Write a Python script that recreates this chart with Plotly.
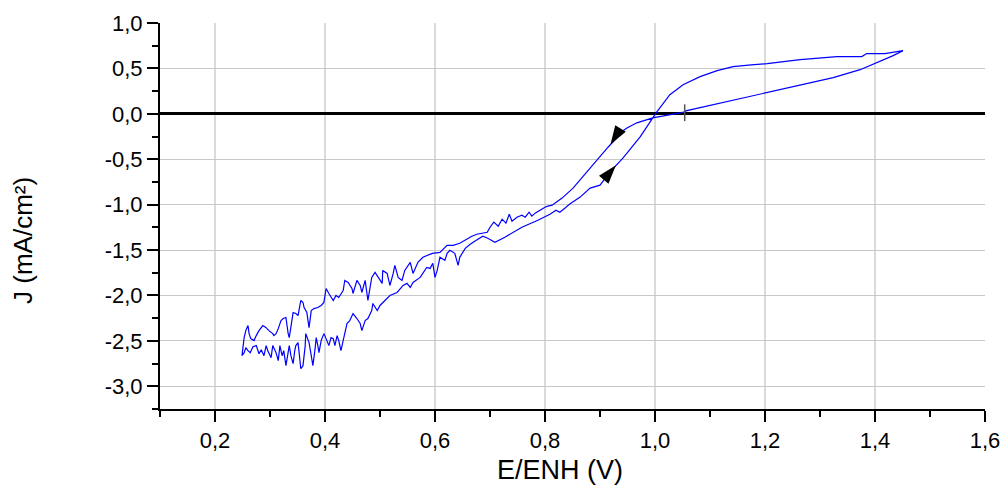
import plotly.graph_objects as go

# ---- data (E in V vs ENH, J in mA/cm2) ----
# cathodic sweep from start point, upper (noisy) branch going left
branch_b_E = [1.055, 1.027, 0.996, 0.967, 0.949, 0.936, 0.927, 0.915, 0.895, 0.876, 0.851, 0.831, 0.813,
              0.805, 0.800, 0.791, 0.782, 0.776, 0.771, 0.764, 0.758, 0.749, 0.740, 0.735, 0.729, 0.722,
              0.715, 0.707, 0.700, 0.695, 0.685, 0.676, 0.667, 0.655, 0.645, 0.633, 0.622, 0.609, 0.595,
              0.578, 0.569, 0.560, 0.555, 0.545, 0.540, 0.533, 0.527, 0.524, 0.518, 0.513, 0.505, 0.504,
              0.496, 0.491, 0.485, 0.478, 0.473, 0.467, 0.464, 0.458, 0.451, 0.449, 0.442, 0.436, 0.433,
              0.425, 0.420, 0.415, 0.407, 0.402, 0.398, 0.393, 0.387, 0.380, 0.375, 0.371, 0.367, 0.362,
              0.360, 0.356, 0.351, 0.347, 0.342, 0.335, 0.333, 0.329, 0.324, 0.320, 0.315, 0.311, 0.307,
              0.305, 0.298, 0.293, 0.287, 0.280, 0.275, 0.271, 0.265, 0.262, 0.260, 0.256, 0.253, 0.251,
              0.249]
branch_b_J = [0.022, -0.011, -0.044, -0.099, -0.155, -0.210, -0.287, -0.365, -0.508, -0.652, -0.818, -0.928, -1.006,
              -1.017, -1.028, -1.061, -1.094, -1.127, -1.083, -1.138, -1.116, -1.138, -1.182, -1.105, -1.204, -1.160,
              -1.238, -1.193, -1.249, -1.304, -1.315, -1.326, -1.348, -1.392, -1.425, -1.448, -1.448, -1.525, -1.536,
              -1.580, -1.635, -1.757, -1.635, -1.724, -1.834, -1.801, -1.669, -1.757, -1.890, -1.757, -1.724, -1.867,
              -1.801, -1.746, -1.801, -2.055, -1.834, -1.967, -1.890, -1.834, -1.978, -1.923, -1.856, -1.834, -1.945,
              -2.022, -2.000, -2.055, -1.978, -1.923, -2.077, -2.110, -2.133, -2.144, -2.166, -2.354, -2.188, -2.133,
              -2.077, -2.055, -2.221, -2.199, -2.188, -2.464, -2.420, -2.243, -2.254, -2.276, -2.365, -2.420, -2.442,
              -2.420, -2.387, -2.354, -2.331, -2.387, -2.442, -2.497, -2.475, -2.420, -2.331, -2.387, -2.464, -2.575,
              -2.663]

# anodic sweep, lower branch going right up to the crossing
branch_a_E = [0.253, 0.256, 0.260, 0.264, 0.269, 0.275, 0.280, 0.284, 0.289, 0.293, 0.296, 0.302, 0.305,
              0.311, 0.315, 0.318, 0.322, 0.325, 0.329, 0.333, 0.335, 0.338, 0.342, 0.345, 0.347, 0.351,
              0.353, 0.356, 0.360, 0.364, 0.365, 0.369, 0.371, 0.375, 0.378, 0.382, 0.384, 0.387, 0.389,
              0.393, 0.398, 0.402, 0.407, 0.411, 0.415, 0.418, 0.422, 0.425, 0.429, 0.433, 0.438, 0.440,
              0.445, 0.451, 0.458, 0.464, 0.467, 0.473, 0.478, 0.485, 0.487, 0.495, 0.500, 0.505, 0.518,
              0.531, 0.542, 0.549, 0.555, 0.560, 0.573, 0.585, 0.591, 0.596, 0.600, 0.604, 0.609, 0.618,
              0.622, 0.627, 0.636, 0.642, 0.645, 0.655, 0.664, 0.675, 0.687, 0.696, 0.709, 0.727, 0.758,
              0.787, 0.809, 0.820, 0.827, 0.836, 0.845, 0.864, 0.882, 0.900, 0.918, 0.942, 0.973, 1.002,
              1.015]
branch_a_J = [-2.630, -2.575, -2.608, -2.630, -2.564, -2.552, -2.641, -2.597, -2.663, -2.552, -2.608, -2.685, -2.552,
              -2.630, -2.718, -2.552, -2.663, -2.608, -2.773, -2.630, -2.552, -2.663, -2.751, -2.608, -2.552, -2.519,
              -2.663, -2.807, -2.773, -2.552, -2.420, -2.475, -2.519, -2.663, -2.773, -2.586, -2.464, -2.552, -2.630,
              -2.497, -2.420, -2.475, -2.552, -2.464, -2.475, -2.552, -2.442, -2.497, -2.608, -2.497, -2.331, -2.309,
              -2.276, -2.199, -2.254, -2.309, -2.387, -2.276, -2.254, -2.166, -2.088, -2.166, -2.110, -2.077, -2.000,
              -1.967, -1.890, -1.867, -1.912, -1.856, -1.801, -1.691, -1.702, -1.646, -1.801, -1.724, -1.580, -1.613,
              -1.536, -1.503, -1.536, -1.669, -1.580, -1.481, -1.436, -1.392, -1.348, -1.370, -1.414, -1.359, -1.249,
              -1.171, -1.105, -1.061, -1.083, -1.039, -0.994, -0.917, -0.818, -0.785, -0.641, -0.486, -0.254, 0.011,
              0.110]

# anodic sweep, upper right branch up to the vertex
upper_right_E = [1.027, 1.051, 1.082, 1.113, 1.142, 1.175, 1.204, 1.264, 1.331, 1.376, 1.385, 1.418, 1.427, 1.451]
upper_right_J = [0.210, 0.320, 0.409, 0.475, 0.519, 0.540, 0.552, 0.597, 0.630, 0.630, 0.663, 0.663, 0.674, 0.696]

# return sweep, lower right branch back to the start point
lower_right_E = [1.433, 1.404, 1.373, 1.324, 1.204, 1.056, 1.055]
lower_right_J = [0.641, 0.564, 0.486, 0.398, 0.232, 0.033, 0.022]

# start marker and direction arrows
start_E = [1.054]
start_J = [0.012]
arrow_E = [0.919, 0.929]
arrow_J = [-0.339, -0.566]
arrow_angle = [212, 40]

x_tickvals = [0.2, 0.4, 0.6, 0.8, 1.0, 1.2, 1.4, 1.6]
x_ticktext = ["0,2", "0,4", "0,6", "0,8", "1,0", "1,2", "1,4", "1,6"]
y_tickvals = [-3.0, -2.5, -2.0, -1.5, -1.0, -0.5, 0.0, 0.5, 1.0]
y_ticktext = ["-3,0", "-2,5", "-2,0", "-1,5", "-1,0", "-0,5", "0,0", "0,5", "1,0"]

E_all = branch_b_E + branch_a_E + upper_right_E + lower_right_E
J_all = branch_b_J + branch_a_J + upper_right_J + lower_right_J

FONT = "Liberation Sans, Arial, sans-serif"

fig = go.Figure()
fig.add_trace(go.Scatter(x=E_all, y=J_all, mode="lines",
                         line=dict(color="#0000FF", width=1.2), showlegend=False))
fig.add_trace(go.Scatter(x=start_E, y=start_J, mode="markers",
                         marker=dict(symbol="line-ns", size=12,
                                     line=dict(color="#555555", width=1.5)),
                         showlegend=False))
fig.add_trace(go.Scatter(x=arrow_E, y=arrow_J, mode="markers",
                         marker=dict(symbol="arrow", size=20, angle=arrow_angle,
                                     color="black", line=dict(width=0)),
                         showlegend=False))

axis_common = dict(showline=True, linecolor="black", linewidth=2,
                   ticks="outside", ticklen=11, tickwidth=2, tickcolor="black",
                   showgrid=True, automargin=False,
                   tickfont=dict(family=FONT, size=22, color="black"),
                   mirror=False)

fig.update_xaxes(range=[0.1, 1.6], tickmode="array", tickvals=x_tickvals, ticktext=x_ticktext,
                 zeroline=False, gridcolor="#dadada", gridwidth=1.5,
                 minor=dict(tick0=0.1, dtick=0.1, ticks="outside", ticklen=6, tickwidth=2,
                            tickcolor="black", showgrid=False),
                 **axis_common)
fig.update_yaxes(range=[-3.25, 1.0], tickmode="array", tickvals=y_tickvals, ticktext=y_ticktext,
                 zeroline=True, zerolinecolor="black", zerolinewidth=2.5,
                 gridcolor="#c8c8c8", gridwidth=1,
                 minor=dict(tick0=0, dtick=0.25, ticks="outside", ticklen=6, tickwidth=2,
                            tickcolor="black", showgrid=False),
                 **axis_common)

fig.add_annotation(text="E/ENH (V)", xref="paper", yref="paper", x=0.485, y=-0.158,
                   showarrow=False, xanchor="center", yanchor="middle",
                   font=dict(family=FONT, size=27, color="black"))
fig.add_annotation(text="J (mA/cm²)", xref="paper", yref="paper", x=-0.167, y=0.436,
                   textangle=-90, showarrow=False, xanchor="center", yanchor="middle",
                   font=dict(family=FONT, size=26, color="black"))

fig.update_layout(width=1004, height=486,
                  margin=dict(l=160, r=19, t=23, b=77, autoexpand=False),
                  plot_bgcolor="white", paper_bgcolor="white",
                  font=dict(family=FONT, color="black"))

fig.write_html("out.html",
               config={"displayModeBar": False},
               post_script="document.body.style.margin='0';document.body.style.overflow='hidden';")
